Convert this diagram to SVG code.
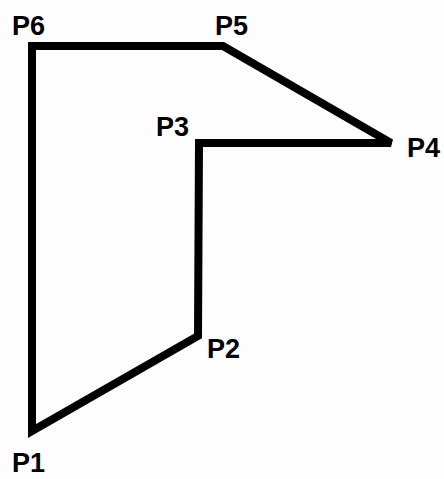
<svg xmlns="http://www.w3.org/2000/svg" width="444" height="479" viewBox="0 0 444 479">
<style>
.shape{fill:none;stroke:#000;stroke-width:8;stroke-linejoin:miter;stroke-miterlimit:2}
.lbl{font-family:"Liberation Sans",Arial,sans-serif;font-weight:bold;font-size:27px;fill:#000}
</style>
<rect width="444" height="479" fill="#fdfdfd"/>
<g id="connectors">
<polygon class="shape" points="32,431 198,336 199,143 391,143 223,46 32,46"/>
</g>
<g id="P1"><text class="lbl" x="12" y="472">P1</text></g>
<g id="P2"><text class="lbl" x="207" y="358">P2</text></g>
<g id="P3"><text class="lbl" x="156" y="136">P3</text></g>
<g id="P4"><text class="lbl" x="407" y="157">P4</text></g>
<g id="P5"><text class="lbl" x="215" y="35">P5</text></g>
<g id="P6"><text class="lbl" x="12" y="35">P6</text></g>
</svg>
